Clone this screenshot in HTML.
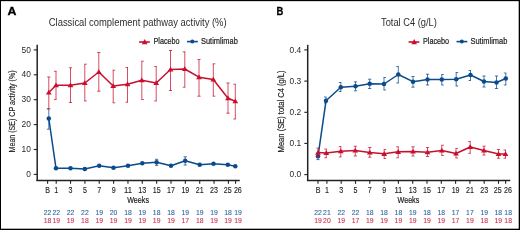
<!DOCTYPE html>
<html><head><meta charset="utf-8"><style>
html,body{margin:0;padding:0;background:#fff;width:520px;height:230px;overflow:hidden}
svg{display:block;will-change:transform}
text{font-family:"Liberation Sans", sans-serif}
</style></head><body>
<svg width="520" height="230" viewBox="0 0 520 230">
<rect width="520" height="230" fill="#fff"/>
<rect x="0" y="0" width="520" height="1.15" fill="#000"/>
<rect x="0" y="0" width="1" height="230" fill="#000"/>
<rect x="0" y="228.7" width="520" height="1.3" fill="#000"/>
<rect x="518.7" y="0" width="1.3" height="230" fill="#000"/>
<text x="7.4" y="14.7" font-size="10.7" fill="#000" text-anchor="start" font-weight="bold" textLength="8.9" lengthAdjust="spacingAndGlyphs" stroke="#000" stroke-width="0.3">A</text>
<text x="48.8" y="25.9" font-size="10" fill="#2e2e2e" text-anchor="start" font-weight="normal" textLength="177.8" lengthAdjust="spacingAndGlyphs">Classical complement pathway activity (%)</text>
<line x1="139.1" y1="42" x2="149.79999999999998" y2="42" stroke="#c8102e" stroke-width="1.6"/>
<polygon points="141.89999999999998,44.2 144.7,38.9 147.5,44.2" fill="#c8102e"/>
<text x="153.5" y="43.7" font-size="8.3" fill="#222" text-anchor="start" font-weight="normal" textLength="26.1" lengthAdjust="spacingAndGlyphs" stroke="#222" stroke-width="0.2">Placebo</text>
<line x1="187" y1="41.6" x2="197.8" y2="41.6" stroke="#0b4b8c" stroke-width="1.6"/>
<circle cx="192.3" cy="41.6" r="2.0" fill="#0b4b8c"/>
<text x="201" y="43.7" font-size="8.3" fill="#222" text-anchor="start" font-weight="normal" textLength="36.8" lengthAdjust="spacingAndGlyphs" stroke="#222" stroke-width="0.2">Sutimlimab</text>
<line x1="37.2" y1="44.8" x2="37.2" y2="181" stroke="#222" stroke-width="1.5"/>
<line x1="36.45" y1="180.5" x2="239.8" y2="180.5" stroke="#222" stroke-width="1.5"/>
<line x1="33.800000000000004" y1="49.9" x2="37.2" y2="49.9" stroke="#222" stroke-width="1.1"/>
<text x="30.8" y="52.5" font-size="8.4" fill="#2a2a2a" text-anchor="end" font-weight="normal">50</text>
<line x1="33.800000000000004" y1="74.8" x2="37.2" y2="74.8" stroke="#222" stroke-width="1.1"/>
<text x="30.8" y="77.39999999999999" font-size="8.4" fill="#2a2a2a" text-anchor="end" font-weight="normal">40</text>
<line x1="33.800000000000004" y1="99.7" x2="37.2" y2="99.7" stroke="#222" stroke-width="1.1"/>
<text x="30.8" y="102.3" font-size="8.4" fill="#2a2a2a" text-anchor="end" font-weight="normal">30</text>
<line x1="33.800000000000004" y1="124.6" x2="37.2" y2="124.6" stroke="#222" stroke-width="1.1"/>
<text x="30.8" y="127.19999999999999" font-size="8.4" fill="#2a2a2a" text-anchor="end" font-weight="normal">20</text>
<line x1="33.800000000000004" y1="149.5" x2="37.2" y2="149.5" stroke="#222" stroke-width="1.1"/>
<text x="30.8" y="152.1" font-size="8.4" fill="#2a2a2a" text-anchor="end" font-weight="normal">10</text>
<line x1="33.800000000000004" y1="174.4" x2="37.2" y2="174.4" stroke="#222" stroke-width="1.1"/>
<text x="30.8" y="177.0" font-size="8.4" fill="#2a2a2a" text-anchor="end" font-weight="normal">0</text>
<line x1="47.6" y1="180.5" x2="47.6" y2="183.8" stroke="#222" stroke-width="1.1"/>
<line x1="56.2" y1="180.5" x2="56.2" y2="183.8" stroke="#222" stroke-width="1.1"/>
<line x1="70.55" y1="180.5" x2="70.55" y2="183.8" stroke="#222" stroke-width="1.1"/>
<line x1="84.9" y1="180.5" x2="84.9" y2="183.8" stroke="#222" stroke-width="1.1"/>
<line x1="99.25" y1="180.5" x2="99.25" y2="183.8" stroke="#222" stroke-width="1.1"/>
<line x1="113.6" y1="180.5" x2="113.6" y2="183.8" stroke="#222" stroke-width="1.1"/>
<line x1="127.95" y1="180.5" x2="127.95" y2="183.8" stroke="#222" stroke-width="1.1"/>
<line x1="142.3" y1="180.5" x2="142.3" y2="183.8" stroke="#222" stroke-width="1.1"/>
<line x1="156.65" y1="180.5" x2="156.65" y2="183.8" stroke="#222" stroke-width="1.1"/>
<line x1="171.0" y1="180.5" x2="171.0" y2="183.8" stroke="#222" stroke-width="1.1"/>
<line x1="185.35" y1="180.5" x2="185.35" y2="183.8" stroke="#222" stroke-width="1.1"/>
<line x1="199.7" y1="180.5" x2="199.7" y2="183.8" stroke="#222" stroke-width="1.1"/>
<line x1="214.05" y1="180.5" x2="214.05" y2="183.8" stroke="#222" stroke-width="1.1"/>
<line x1="228.4" y1="180.5" x2="228.4" y2="183.8" stroke="#222" stroke-width="1.1"/>
<line x1="235.57" y1="180.5" x2="235.57" y2="183.8" stroke="#222" stroke-width="1.1"/>
<text x="47.6" y="193" font-size="8.5" fill="#1a1a1a" text-anchor="middle" font-weight="normal" textLength="4.74" lengthAdjust="spacingAndGlyphs" stroke="#1a1a1a" stroke-width="0.12">B</text>
<text x="56.2" y="193" font-size="8.5" fill="#1a1a1a" text-anchor="middle" font-weight="normal" textLength="3.95" lengthAdjust="spacingAndGlyphs" stroke="#1a1a1a" stroke-width="0.12">1</text>
<text x="70.55" y="193" font-size="8.5" fill="#1a1a1a" text-anchor="middle" font-weight="normal" textLength="3.95" lengthAdjust="spacingAndGlyphs" stroke="#1a1a1a" stroke-width="0.12">3</text>
<text x="84.9" y="193" font-size="8.5" fill="#1a1a1a" text-anchor="middle" font-weight="normal" textLength="3.95" lengthAdjust="spacingAndGlyphs" stroke="#1a1a1a" stroke-width="0.12">5</text>
<text x="99.25" y="193" font-size="8.5" fill="#1a1a1a" text-anchor="middle" font-weight="normal" textLength="3.95" lengthAdjust="spacingAndGlyphs" stroke="#1a1a1a" stroke-width="0.12">7</text>
<text x="113.6" y="193" font-size="8.5" fill="#1a1a1a" text-anchor="middle" font-weight="normal" textLength="3.95" lengthAdjust="spacingAndGlyphs" stroke="#1a1a1a" stroke-width="0.12">9</text>
<text x="127.95" y="193" font-size="8.5" fill="#1a1a1a" text-anchor="middle" font-weight="normal" textLength="7.91" lengthAdjust="spacingAndGlyphs" stroke="#1a1a1a" stroke-width="0.12">11</text>
<text x="142.3" y="193" font-size="8.5" fill="#1a1a1a" text-anchor="middle" font-weight="normal" textLength="7.91" lengthAdjust="spacingAndGlyphs" stroke="#1a1a1a" stroke-width="0.12">13</text>
<text x="156.65" y="193" font-size="8.5" fill="#1a1a1a" text-anchor="middle" font-weight="normal" textLength="7.91" lengthAdjust="spacingAndGlyphs" stroke="#1a1a1a" stroke-width="0.12">15</text>
<text x="171.0" y="193" font-size="8.5" fill="#1a1a1a" text-anchor="middle" font-weight="normal" textLength="7.91" lengthAdjust="spacingAndGlyphs" stroke="#1a1a1a" stroke-width="0.12">17</text>
<text x="185.35" y="193" font-size="8.5" fill="#1a1a1a" text-anchor="middle" font-weight="normal" textLength="7.91" lengthAdjust="spacingAndGlyphs" stroke="#1a1a1a" stroke-width="0.12">19</text>
<text x="199.7" y="193" font-size="8.5" fill="#1a1a1a" text-anchor="middle" font-weight="normal" textLength="7.91" lengthAdjust="spacingAndGlyphs" stroke="#1a1a1a" stroke-width="0.12">21</text>
<text x="214.05" y="193" font-size="8.5" fill="#1a1a1a" text-anchor="middle" font-weight="normal" textLength="7.91" lengthAdjust="spacingAndGlyphs" stroke="#1a1a1a" stroke-width="0.12">23</text>
<text x="227.7" y="193" font-size="8.5" fill="#1a1a1a" text-anchor="middle" font-weight="normal" textLength="7.91" lengthAdjust="spacingAndGlyphs" stroke="#1a1a1a" stroke-width="0.12">25</text>
<text x="237.87" y="193" font-size="8.5" fill="#1a1a1a" text-anchor="middle" font-weight="normal" textLength="7.91" lengthAdjust="spacingAndGlyphs" stroke="#1a1a1a" stroke-width="0.12">26</text>
<text x="127.2" y="203.3" font-size="9.5" fill="#1a1a1a" text-anchor="start" font-weight="normal" textLength="21.8" lengthAdjust="spacingAndGlyphs" stroke="#1a1a1a" stroke-width="0.2">Weeks</text>
<text transform="translate(15.2,152.4) rotate(-90)" font-size="8.2" fill="#1a1a1a" stroke="#1a1a1a" stroke-width="0.15" textLength="82" lengthAdjust="spacingAndGlyphs">Mean (SE) CP activity (%)</text>
<text x="47.6" y="214.8" font-size="7.4" fill="#2f66a0" text-anchor="middle" font-weight="normal" textLength="7.6" lengthAdjust="spacingAndGlyphs" stroke="#2f66a0" stroke-width="0.1">22</text>
<text x="47.6" y="222.8" font-size="7.4" fill="#cc3050" text-anchor="middle" font-weight="normal" textLength="7.6" lengthAdjust="spacingAndGlyphs" stroke="#cc3050" stroke-width="0.1">18</text>
<text x="56.2" y="214.8" font-size="7.4" fill="#2f66a0" text-anchor="middle" font-weight="normal" textLength="7.6" lengthAdjust="spacingAndGlyphs" stroke="#2f66a0" stroke-width="0.1">22</text>
<text x="56.2" y="222.8" font-size="7.4" fill="#cc3050" text-anchor="middle" font-weight="normal" textLength="7.6" lengthAdjust="spacingAndGlyphs" stroke="#cc3050" stroke-width="0.1">19</text>
<text x="70.55" y="214.8" font-size="7.4" fill="#2f66a0" text-anchor="middle" font-weight="normal" textLength="7.6" lengthAdjust="spacingAndGlyphs" stroke="#2f66a0" stroke-width="0.1">22</text>
<text x="70.55" y="222.8" font-size="7.4" fill="#cc3050" text-anchor="middle" font-weight="normal" textLength="7.6" lengthAdjust="spacingAndGlyphs" stroke="#cc3050" stroke-width="0.1">19</text>
<text x="84.9" y="214.8" font-size="7.4" fill="#2f66a0" text-anchor="middle" font-weight="normal" textLength="7.6" lengthAdjust="spacingAndGlyphs" stroke="#2f66a0" stroke-width="0.1">22</text>
<text x="84.9" y="222.8" font-size="7.4" fill="#cc3050" text-anchor="middle" font-weight="normal" textLength="7.6" lengthAdjust="spacingAndGlyphs" stroke="#cc3050" stroke-width="0.1">18</text>
<text x="99.25" y="214.8" font-size="7.4" fill="#2f66a0" text-anchor="middle" font-weight="normal" textLength="7.6" lengthAdjust="spacingAndGlyphs" stroke="#2f66a0" stroke-width="0.1">19</text>
<text x="99.25" y="222.8" font-size="7.4" fill="#cc3050" text-anchor="middle" font-weight="normal" textLength="7.6" lengthAdjust="spacingAndGlyphs" stroke="#cc3050" stroke-width="0.1">19</text>
<text x="113.6" y="214.8" font-size="7.4" fill="#2f66a0" text-anchor="middle" font-weight="normal" textLength="7.6" lengthAdjust="spacingAndGlyphs" stroke="#2f66a0" stroke-width="0.1">20</text>
<text x="113.6" y="222.8" font-size="7.4" fill="#cc3050" text-anchor="middle" font-weight="normal" textLength="7.6" lengthAdjust="spacingAndGlyphs" stroke="#cc3050" stroke-width="0.1">19</text>
<text x="127.95" y="214.8" font-size="7.4" fill="#2f66a0" text-anchor="middle" font-weight="normal" textLength="7.6" lengthAdjust="spacingAndGlyphs" stroke="#2f66a0" stroke-width="0.1">18</text>
<text x="127.95" y="222.8" font-size="7.4" fill="#cc3050" text-anchor="middle" font-weight="normal" textLength="7.6" lengthAdjust="spacingAndGlyphs" stroke="#cc3050" stroke-width="0.1">19</text>
<text x="142.3" y="214.8" font-size="7.4" fill="#2f66a0" text-anchor="middle" font-weight="normal" textLength="7.6" lengthAdjust="spacingAndGlyphs" stroke="#2f66a0" stroke-width="0.1">19</text>
<text x="142.3" y="222.8" font-size="7.4" fill="#cc3050" text-anchor="middle" font-weight="normal" textLength="7.6" lengthAdjust="spacingAndGlyphs" stroke="#cc3050" stroke-width="0.1">19</text>
<text x="156.65" y="214.8" font-size="7.4" fill="#2f66a0" text-anchor="middle" font-weight="normal" textLength="7.6" lengthAdjust="spacingAndGlyphs" stroke="#2f66a0" stroke-width="0.1">18</text>
<text x="156.65" y="222.8" font-size="7.4" fill="#cc3050" text-anchor="middle" font-weight="normal" textLength="7.6" lengthAdjust="spacingAndGlyphs" stroke="#cc3050" stroke-width="0.1">19</text>
<text x="171.0" y="214.8" font-size="7.4" fill="#2f66a0" text-anchor="middle" font-weight="normal" textLength="7.6" lengthAdjust="spacingAndGlyphs" stroke="#2f66a0" stroke-width="0.1">18</text>
<text x="171.0" y="222.8" font-size="7.4" fill="#cc3050" text-anchor="middle" font-weight="normal" textLength="7.6" lengthAdjust="spacingAndGlyphs" stroke="#cc3050" stroke-width="0.1">19</text>
<text x="185.35" y="214.8" font-size="7.4" fill="#2f66a0" text-anchor="middle" font-weight="normal" textLength="7.6" lengthAdjust="spacingAndGlyphs" stroke="#2f66a0" stroke-width="0.1">19</text>
<text x="185.35" y="222.8" font-size="7.4" fill="#cc3050" text-anchor="middle" font-weight="normal" textLength="7.6" lengthAdjust="spacingAndGlyphs" stroke="#cc3050" stroke-width="0.1">17</text>
<text x="199.7" y="214.8" font-size="7.4" fill="#2f66a0" text-anchor="middle" font-weight="normal" textLength="7.6" lengthAdjust="spacingAndGlyphs" stroke="#2f66a0" stroke-width="0.1">19</text>
<text x="199.7" y="222.8" font-size="7.4" fill="#cc3050" text-anchor="middle" font-weight="normal" textLength="7.6" lengthAdjust="spacingAndGlyphs" stroke="#cc3050" stroke-width="0.1">18</text>
<text x="214.05" y="214.8" font-size="7.4" fill="#2f66a0" text-anchor="middle" font-weight="normal" textLength="7.6" lengthAdjust="spacingAndGlyphs" stroke="#2f66a0" stroke-width="0.1">19</text>
<text x="214.05" y="222.8" font-size="7.4" fill="#cc3050" text-anchor="middle" font-weight="normal" textLength="7.6" lengthAdjust="spacingAndGlyphs" stroke="#cc3050" stroke-width="0.1">19</text>
<text x="228.1" y="214.8" font-size="7.4" fill="#2f66a0" text-anchor="middle" font-weight="normal" textLength="7.6" lengthAdjust="spacingAndGlyphs" stroke="#2f66a0" stroke-width="0.1">18</text>
<text x="228.1" y="222.8" font-size="7.4" fill="#cc3050" text-anchor="middle" font-weight="normal" textLength="7.6" lengthAdjust="spacingAndGlyphs" stroke="#cc3050" stroke-width="0.1">19</text>
<text x="238.07" y="214.8" font-size="7.4" fill="#2f66a0" text-anchor="middle" font-weight="normal" textLength="7.6" lengthAdjust="spacingAndGlyphs" stroke="#2f66a0" stroke-width="0.1">19</text>
<text x="238.07" y="222.8" font-size="7.4" fill="#cc3050" text-anchor="middle" font-weight="normal" textLength="7.6" lengthAdjust="spacingAndGlyphs" stroke="#cc3050" stroke-width="0.1">19</text>
<path d="M48.8,108.8V129.2M46.8,108.8H49.3M46.8,129.2H49.3" stroke="#0b4b8c" stroke-width="1" fill="none" opacity="0.75"/>
<path d="M156.6,159.3V165.4M155.0,159.3H158.2M155.0,165.4H158.2" stroke="#0b4b8c" stroke-width="1" fill="none" opacity="0.75"/>
<path d="M185.2,156.8V165M183.6,156.8H186.8M183.6,165H186.8" stroke="#0b4b8c" stroke-width="1" fill="none" opacity="0.75"/>
<polyline points="48.8,118.5 56,168.3 70.5,168.3 84.8,169 99.2,165.8 113.5,167.8 128,165.8 142.3,163.3 156.6,162.2 171,165.8 185.2,160.8 199.7,164.8 213.5,163.8 227.8,164.8 235.3,166.3" fill="none" stroke="#0b4b8c" stroke-width="1.5" stroke-linejoin="round"/>
<circle cx="48.8" cy="118.5" r="2.25" fill="#0b4b8c"/>
<circle cx="56" cy="168.3" r="2.25" fill="#0b4b8c"/>
<circle cx="70.5" cy="168.3" r="2.25" fill="#0b4b8c"/>
<circle cx="84.8" cy="169" r="2.25" fill="#0b4b8c"/>
<circle cx="99.2" cy="165.8" r="2.25" fill="#0b4b8c"/>
<circle cx="113.5" cy="167.8" r="2.25" fill="#0b4b8c"/>
<circle cx="128" cy="165.8" r="2.25" fill="#0b4b8c"/>
<circle cx="142.3" cy="163.3" r="2.25" fill="#0b4b8c"/>
<circle cx="156.6" cy="162.2" r="2.25" fill="#0b4b8c"/>
<circle cx="171" cy="165.8" r="2.25" fill="#0b4b8c"/>
<circle cx="185.2" cy="160.8" r="2.25" fill="#0b4b8c"/>
<circle cx="199.7" cy="164.8" r="2.25" fill="#0b4b8c"/>
<circle cx="213.5" cy="163.8" r="2.25" fill="#0b4b8c"/>
<circle cx="227.8" cy="164.8" r="2.25" fill="#0b4b8c"/>
<circle cx="235.3" cy="166.3" r="2.25" fill="#0b4b8c"/>
<path d="M48.8,77V108.8M47.2,77H50.4M47.2,108.8H50.4" stroke="#c8102e" stroke-width="1" fill="none" opacity="0.75"/>
<path d="M56,71.3V99.5M54.0,71.3H56.5M54.0,99.5H56.5" stroke="#c8102e" stroke-width="1" fill="none" opacity="0.75"/>
<path d="M70.5,67.8V102.5M68.9,67.8H72.1M68.9,102.5H72.1" stroke="#c8102e" stroke-width="1" fill="none" opacity="0.75"/>
<path d="M84.8,64.2V101M84.3,64.2H86.8M84.3,101H86.8" stroke="#c8102e" stroke-width="1" fill="none" opacity="0.75"/>
<path d="M98.8,52.5V91.2M97.2,52.5H100.4M97.2,91.2H100.4" stroke="#c8102e" stroke-width="1" fill="none" opacity="0.75"/>
<path d="M113.2,70.2V102.8M112.7,70.2H115.2M112.7,102.8H115.2" stroke="#c8102e" stroke-width="1" fill="none" opacity="0.75"/>
<path d="M127.5,67.5V102.2M125.5,67.5H128.0M125.5,102.2H128.0" stroke="#c8102e" stroke-width="1" fill="none" opacity="0.75"/>
<path d="M141.8,61.2V99.5M141.3,61.2H143.8M141.3,99.5H143.8" stroke="#c8102e" stroke-width="1" fill="none" opacity="0.75"/>
<path d="M156.2,66.5V101M154.2,66.5H156.7M154.2,101H156.7" stroke="#c8102e" stroke-width="1" fill="none" opacity="0.75"/>
<path d="M170.5,50.5V90.5M168.9,50.5H172.1M168.9,90.5H172.1" stroke="#c8102e" stroke-width="1" fill="none" opacity="0.75"/>
<path d="M184.8,51.8V87.2M182.8,51.8H185.3M182.8,87.2H185.3" stroke="#c8102e" stroke-width="1" fill="none" opacity="0.75"/>
<path d="M199,59.5V96.2M197.4,59.5H200.6M197.4,96.2H200.6" stroke="#c8102e" stroke-width="1" fill="none" opacity="0.75"/>
<path d="M213.3,63.8V96.2M212.8,63.8H215.3M212.8,96.2H215.3" stroke="#c8102e" stroke-width="1" fill="none" opacity="0.75"/>
<path d="M228,83V113.2M226.4,83H229.6M226.4,113.2H229.6" stroke="#c8102e" stroke-width="1" fill="none" opacity="0.75"/>
<path d="M235.3,84.2V119M233.3,84.2H235.8M233.3,119H235.8" stroke="#c8102e" stroke-width="1" fill="none" opacity="0.75"/>
<polyline points="48.8,92.5 56,85.2 70.5,85.2 84.8,83 98.8,72 113.2,86 127.5,84.2 141.8,80.2 156.2,83 170.5,69.5 184.8,69 199,77.2 213.3,79.5 228,98.2 235.3,101.2" fill="none" stroke="#c8102e" stroke-width="1.5" stroke-linejoin="round"/>
<polygon points="45.9,94.6 48.8,89.8 51.699999999999996,94.6" fill="#c8102e"/>
<polygon points="53.1,87.3 56,82.5 58.9,87.3" fill="#c8102e"/>
<polygon points="67.6,87.3 70.5,82.5 73.4,87.3" fill="#c8102e"/>
<polygon points="81.89999999999999,85.1 84.8,80.3 87.7,85.1" fill="#c8102e"/>
<polygon points="95.89999999999999,74.1 98.8,69.3 101.7,74.1" fill="#c8102e"/>
<polygon points="110.3,88.1 113.2,83.3 116.10000000000001,88.1" fill="#c8102e"/>
<polygon points="124.6,86.3 127.5,81.5 130.4,86.3" fill="#c8102e"/>
<polygon points="138.9,82.3 141.8,77.5 144.70000000000002,82.3" fill="#c8102e"/>
<polygon points="153.29999999999998,85.1 156.2,80.3 159.1,85.1" fill="#c8102e"/>
<polygon points="167.6,71.6 170.5,66.8 173.4,71.6" fill="#c8102e"/>
<polygon points="181.9,71.1 184.8,66.3 187.70000000000002,71.1" fill="#c8102e"/>
<polygon points="196.1,79.3 199,74.5 201.9,79.3" fill="#c8102e"/>
<polygon points="210.4,81.6 213.3,76.8 216.20000000000002,81.6" fill="#c8102e"/>
<polygon points="225.1,100.3 228,95.5 230.9,100.3" fill="#c8102e"/>
<polygon points="232.4,103.3 235.3,98.5 238.20000000000002,103.3" fill="#c8102e"/>
<text x="276.5" y="14.7" font-size="10.7" fill="#000" text-anchor="start" font-weight="bold" textLength="6.8" lengthAdjust="spacingAndGlyphs" stroke="#000" stroke-width="0.3">B</text>
<text x="381" y="25.9" font-size="10" fill="#2e2e2e" text-anchor="start" font-weight="normal" textLength="55.9" lengthAdjust="spacingAndGlyphs">Total C4 (g/L)</text>
<line x1="408.6" y1="42" x2="419.3" y2="42" stroke="#c8102e" stroke-width="1.6"/>
<polygon points="411.40000000000003,44.2 414.20000000000005,38.9 417.00000000000006,44.2" fill="#c8102e"/>
<text x="423.0" y="43.7" font-size="8.3" fill="#222" text-anchor="start" font-weight="normal" textLength="26.1" lengthAdjust="spacingAndGlyphs" stroke="#222" stroke-width="0.2">Placebo</text>
<line x1="456.5" y1="41.6" x2="467.3" y2="41.6" stroke="#0b4b8c" stroke-width="1.6"/>
<circle cx="461.8" cy="41.6" r="2.0" fill="#0b4b8c"/>
<text x="470.5" y="43.7" font-size="8.3" fill="#222" text-anchor="start" font-weight="normal" textLength="36.8" lengthAdjust="spacingAndGlyphs" stroke="#222" stroke-width="0.2">Sutimlimab</text>
<line x1="307.7" y1="44.8" x2="307.7" y2="181" stroke="#222" stroke-width="1.5"/>
<line x1="306.95" y1="180.5" x2="510.3" y2="180.5" stroke="#222" stroke-width="1.5"/>
<line x1="304.3" y1="49.9" x2="307.7" y2="49.9" stroke="#222" stroke-width="1.1"/>
<text x="301.2" y="52.5" font-size="8.4" fill="#2a2a2a" text-anchor="end" font-weight="normal">0.4</text>
<line x1="304.3" y1="81.1" x2="307.7" y2="81.1" stroke="#222" stroke-width="1.1"/>
<text x="301.2" y="83.69999999999999" font-size="8.4" fill="#2a2a2a" text-anchor="end" font-weight="normal">0.3</text>
<line x1="304.3" y1="112.3" x2="307.7" y2="112.3" stroke="#222" stroke-width="1.1"/>
<text x="301.2" y="114.89999999999999" font-size="8.4" fill="#2a2a2a" text-anchor="end" font-weight="normal">0.2</text>
<line x1="304.3" y1="143.4" x2="307.7" y2="143.4" stroke="#222" stroke-width="1.1"/>
<text x="301.2" y="146.0" font-size="8.4" fill="#2a2a2a" text-anchor="end" font-weight="normal">0.1</text>
<line x1="304.3" y1="174.6" x2="307.7" y2="174.6" stroke="#222" stroke-width="1.1"/>
<text x="301.2" y="177.2" font-size="8.4" fill="#2a2a2a" text-anchor="end" font-weight="normal">0.0</text>
<line x1="318" y1="180.5" x2="318" y2="183.8" stroke="#222" stroke-width="1.1"/>
<line x1="326.9" y1="180.5" x2="326.9" y2="183.8" stroke="#222" stroke-width="1.1"/>
<line x1="341.2" y1="180.5" x2="341.2" y2="183.8" stroke="#222" stroke-width="1.1"/>
<line x1="355.5" y1="180.5" x2="355.5" y2="183.8" stroke="#222" stroke-width="1.1"/>
<line x1="369.8" y1="180.5" x2="369.8" y2="183.8" stroke="#222" stroke-width="1.1"/>
<line x1="384.1" y1="180.5" x2="384.1" y2="183.8" stroke="#222" stroke-width="1.1"/>
<line x1="398.4" y1="180.5" x2="398.4" y2="183.8" stroke="#222" stroke-width="1.1"/>
<line x1="412.7" y1="180.5" x2="412.7" y2="183.8" stroke="#222" stroke-width="1.1"/>
<line x1="427.0" y1="180.5" x2="427.0" y2="183.8" stroke="#222" stroke-width="1.1"/>
<line x1="441.3" y1="180.5" x2="441.3" y2="183.8" stroke="#222" stroke-width="1.1"/>
<line x1="455.6" y1="180.5" x2="455.6" y2="183.8" stroke="#222" stroke-width="1.1"/>
<line x1="469.9" y1="180.5" x2="469.9" y2="183.8" stroke="#222" stroke-width="1.1"/>
<line x1="484.2" y1="180.5" x2="484.2" y2="183.8" stroke="#222" stroke-width="1.1"/>
<line x1="498.5" y1="180.5" x2="498.5" y2="183.8" stroke="#222" stroke-width="1.1"/>
<line x1="505.65" y1="180.5" x2="505.65" y2="183.8" stroke="#222" stroke-width="1.1"/>
<text x="318" y="193" font-size="8.5" fill="#1a1a1a" text-anchor="middle" font-weight="normal" textLength="4.74" lengthAdjust="spacingAndGlyphs" stroke="#1a1a1a" stroke-width="0.12">B</text>
<text x="326.9" y="193" font-size="8.5" fill="#1a1a1a" text-anchor="middle" font-weight="normal" textLength="3.95" lengthAdjust="spacingAndGlyphs" stroke="#1a1a1a" stroke-width="0.12">1</text>
<text x="341.2" y="193" font-size="8.5" fill="#1a1a1a" text-anchor="middle" font-weight="normal" textLength="3.95" lengthAdjust="spacingAndGlyphs" stroke="#1a1a1a" stroke-width="0.12">3</text>
<text x="355.5" y="193" font-size="8.5" fill="#1a1a1a" text-anchor="middle" font-weight="normal" textLength="3.95" lengthAdjust="spacingAndGlyphs" stroke="#1a1a1a" stroke-width="0.12">5</text>
<text x="369.8" y="193" font-size="8.5" fill="#1a1a1a" text-anchor="middle" font-weight="normal" textLength="3.95" lengthAdjust="spacingAndGlyphs" stroke="#1a1a1a" stroke-width="0.12">7</text>
<text x="384.1" y="193" font-size="8.5" fill="#1a1a1a" text-anchor="middle" font-weight="normal" textLength="3.95" lengthAdjust="spacingAndGlyphs" stroke="#1a1a1a" stroke-width="0.12">9</text>
<text x="398.4" y="193" font-size="8.5" fill="#1a1a1a" text-anchor="middle" font-weight="normal" textLength="7.91" lengthAdjust="spacingAndGlyphs" stroke="#1a1a1a" stroke-width="0.12">11</text>
<text x="412.7" y="193" font-size="8.5" fill="#1a1a1a" text-anchor="middle" font-weight="normal" textLength="7.91" lengthAdjust="spacingAndGlyphs" stroke="#1a1a1a" stroke-width="0.12">13</text>
<text x="427.0" y="193" font-size="8.5" fill="#1a1a1a" text-anchor="middle" font-weight="normal" textLength="7.91" lengthAdjust="spacingAndGlyphs" stroke="#1a1a1a" stroke-width="0.12">15</text>
<text x="441.3" y="193" font-size="8.5" fill="#1a1a1a" text-anchor="middle" font-weight="normal" textLength="7.91" lengthAdjust="spacingAndGlyphs" stroke="#1a1a1a" stroke-width="0.12">17</text>
<text x="455.6" y="193" font-size="8.5" fill="#1a1a1a" text-anchor="middle" font-weight="normal" textLength="7.91" lengthAdjust="spacingAndGlyphs" stroke="#1a1a1a" stroke-width="0.12">19</text>
<text x="469.9" y="193" font-size="8.5" fill="#1a1a1a" text-anchor="middle" font-weight="normal" textLength="7.91" lengthAdjust="spacingAndGlyphs" stroke="#1a1a1a" stroke-width="0.12">21</text>
<text x="484.2" y="193" font-size="8.5" fill="#1a1a1a" text-anchor="middle" font-weight="normal" textLength="7.91" lengthAdjust="spacingAndGlyphs" stroke="#1a1a1a" stroke-width="0.12">23</text>
<text x="497.8" y="193" font-size="8.5" fill="#1a1a1a" text-anchor="middle" font-weight="normal" textLength="7.91" lengthAdjust="spacingAndGlyphs" stroke="#1a1a1a" stroke-width="0.12">25</text>
<text x="507.95" y="193" font-size="8.5" fill="#1a1a1a" text-anchor="middle" font-weight="normal" textLength="7.91" lengthAdjust="spacingAndGlyphs" stroke="#1a1a1a" stroke-width="0.12">26</text>
<text x="397.5" y="203.3" font-size="9.5" fill="#1a1a1a" text-anchor="start" font-weight="normal" textLength="21.8" lengthAdjust="spacingAndGlyphs" stroke="#1a1a1a" stroke-width="0.2">Weeks</text>
<text transform="translate(283.5,152.4) rotate(-90)" font-size="8.2" fill="#1a1a1a" stroke="#1a1a1a" stroke-width="0.15" textLength="82" lengthAdjust="spacingAndGlyphs">Mean (SE) total C4 (g/L)</text>
<text x="318" y="214.8" font-size="7.4" fill="#2f66a0" text-anchor="middle" font-weight="normal" textLength="7.6" lengthAdjust="spacingAndGlyphs" stroke="#2f66a0" stroke-width="0.1">22</text>
<text x="318" y="222.8" font-size="7.4" fill="#cc3050" text-anchor="middle" font-weight="normal" textLength="7.6" lengthAdjust="spacingAndGlyphs" stroke="#cc3050" stroke-width="0.1">19</text>
<text x="326.9" y="214.8" font-size="7.4" fill="#2f66a0" text-anchor="middle" font-weight="normal" textLength="7.6" lengthAdjust="spacingAndGlyphs" stroke="#2f66a0" stroke-width="0.1">21</text>
<text x="326.9" y="222.8" font-size="7.4" fill="#cc3050" text-anchor="middle" font-weight="normal" textLength="7.6" lengthAdjust="spacingAndGlyphs" stroke="#cc3050" stroke-width="0.1">20</text>
<text x="341.2" y="214.8" font-size="7.4" fill="#2f66a0" text-anchor="middle" font-weight="normal" textLength="7.6" lengthAdjust="spacingAndGlyphs" stroke="#2f66a0" stroke-width="0.1">22</text>
<text x="341.2" y="222.8" font-size="7.4" fill="#cc3050" text-anchor="middle" font-weight="normal" textLength="7.6" lengthAdjust="spacingAndGlyphs" stroke="#cc3050" stroke-width="0.1">19</text>
<text x="355.5" y="214.8" font-size="7.4" fill="#2f66a0" text-anchor="middle" font-weight="normal" textLength="7.6" lengthAdjust="spacingAndGlyphs" stroke="#2f66a0" stroke-width="0.1">22</text>
<text x="355.5" y="222.8" font-size="7.4" fill="#cc3050" text-anchor="middle" font-weight="normal" textLength="7.6" lengthAdjust="spacingAndGlyphs" stroke="#cc3050" stroke-width="0.1">17</text>
<text x="369.8" y="214.8" font-size="7.4" fill="#2f66a0" text-anchor="middle" font-weight="normal" textLength="7.6" lengthAdjust="spacingAndGlyphs" stroke="#2f66a0" stroke-width="0.1">18</text>
<text x="369.8" y="222.8" font-size="7.4" fill="#cc3050" text-anchor="middle" font-weight="normal" textLength="7.6" lengthAdjust="spacingAndGlyphs" stroke="#cc3050" stroke-width="0.1">19</text>
<text x="384.1" y="214.8" font-size="7.4" fill="#2f66a0" text-anchor="middle" font-weight="normal" textLength="7.6" lengthAdjust="spacingAndGlyphs" stroke="#2f66a0" stroke-width="0.1">18</text>
<text x="384.1" y="222.8" font-size="7.4" fill="#cc3050" text-anchor="middle" font-weight="normal" textLength="7.6" lengthAdjust="spacingAndGlyphs" stroke="#cc3050" stroke-width="0.1">19</text>
<text x="398.4" y="214.8" font-size="7.4" fill="#2f66a0" text-anchor="middle" font-weight="normal" textLength="7.6" lengthAdjust="spacingAndGlyphs" stroke="#2f66a0" stroke-width="0.1">18</text>
<text x="398.4" y="222.8" font-size="7.4" fill="#cc3050" text-anchor="middle" font-weight="normal" textLength="7.6" lengthAdjust="spacingAndGlyphs" stroke="#cc3050" stroke-width="0.1">19</text>
<text x="412.7" y="214.8" font-size="7.4" fill="#2f66a0" text-anchor="middle" font-weight="normal" textLength="7.6" lengthAdjust="spacingAndGlyphs" stroke="#2f66a0" stroke-width="0.1">19</text>
<text x="412.7" y="222.8" font-size="7.4" fill="#cc3050" text-anchor="middle" font-weight="normal" textLength="7.6" lengthAdjust="spacingAndGlyphs" stroke="#cc3050" stroke-width="0.1">19</text>
<text x="427.0" y="214.8" font-size="7.4" fill="#2f66a0" text-anchor="middle" font-weight="normal" textLength="7.6" lengthAdjust="spacingAndGlyphs" stroke="#2f66a0" stroke-width="0.1">18</text>
<text x="427.0" y="222.8" font-size="7.4" fill="#cc3050" text-anchor="middle" font-weight="normal" textLength="7.6" lengthAdjust="spacingAndGlyphs" stroke="#cc3050" stroke-width="0.1">19</text>
<text x="441.3" y="214.8" font-size="7.4" fill="#2f66a0" text-anchor="middle" font-weight="normal" textLength="7.6" lengthAdjust="spacingAndGlyphs" stroke="#2f66a0" stroke-width="0.1">18</text>
<text x="441.3" y="222.8" font-size="7.4" fill="#cc3050" text-anchor="middle" font-weight="normal" textLength="7.6" lengthAdjust="spacingAndGlyphs" stroke="#cc3050" stroke-width="0.1">19</text>
<text x="455.6" y="214.8" font-size="7.4" fill="#2f66a0" text-anchor="middle" font-weight="normal" textLength="7.6" lengthAdjust="spacingAndGlyphs" stroke="#2f66a0" stroke-width="0.1">17</text>
<text x="455.6" y="222.8" font-size="7.4" fill="#cc3050" text-anchor="middle" font-weight="normal" textLength="7.6" lengthAdjust="spacingAndGlyphs" stroke="#cc3050" stroke-width="0.1">17</text>
<text x="469.9" y="214.8" font-size="7.4" fill="#2f66a0" text-anchor="middle" font-weight="normal" textLength="7.6" lengthAdjust="spacingAndGlyphs" stroke="#2f66a0" stroke-width="0.1">17</text>
<text x="469.9" y="222.8" font-size="7.4" fill="#cc3050" text-anchor="middle" font-weight="normal" textLength="7.6" lengthAdjust="spacingAndGlyphs" stroke="#cc3050" stroke-width="0.1">19</text>
<text x="484.2" y="214.8" font-size="7.4" fill="#2f66a0" text-anchor="middle" font-weight="normal" textLength="7.6" lengthAdjust="spacingAndGlyphs" stroke="#2f66a0" stroke-width="0.1">19</text>
<text x="484.2" y="222.8" font-size="7.4" fill="#cc3050" text-anchor="middle" font-weight="normal" textLength="7.6" lengthAdjust="spacingAndGlyphs" stroke="#cc3050" stroke-width="0.1">18</text>
<text x="498.2" y="214.8" font-size="7.4" fill="#2f66a0" text-anchor="middle" font-weight="normal" textLength="7.6" lengthAdjust="spacingAndGlyphs" stroke="#2f66a0" stroke-width="0.1">18</text>
<text x="498.2" y="222.8" font-size="7.4" fill="#cc3050" text-anchor="middle" font-weight="normal" textLength="7.6" lengthAdjust="spacingAndGlyphs" stroke="#cc3050" stroke-width="0.1">19</text>
<text x="508.15" y="214.8" font-size="7.4" fill="#2f66a0" text-anchor="middle" font-weight="normal" textLength="7.6" lengthAdjust="spacingAndGlyphs" stroke="#2f66a0" stroke-width="0.1">18</text>
<text x="508.15" y="222.8" font-size="7.4" fill="#cc3050" text-anchor="middle" font-weight="normal" textLength="7.6" lengthAdjust="spacingAndGlyphs" stroke="#cc3050" stroke-width="0.1">18</text>
<path d="M318,153V159.6M316.4,153H319.6M316.4,159.6H319.6" stroke="#0b4b8c" stroke-width="1" fill="none" opacity="0.75"/>
<path d="M326,97V103M324.0,97H326.5M324.0,103H326.5" stroke="#0b4b8c" stroke-width="1" fill="none" opacity="0.75"/>
<path d="M340.8,82.5V91.5M338.8,82.5H341.3M338.8,91.5H341.3" stroke="#0b4b8c" stroke-width="1" fill="none" opacity="0.75"/>
<path d="M355.5,81.8V90.8M353.9,81.8H357.1M353.9,90.8H357.1" stroke="#0b4b8c" stroke-width="1" fill="none" opacity="0.75"/>
<path d="M369.7,79.2V88.5M368.1,79.2H371.3M368.1,88.5H371.3" stroke="#0b4b8c" stroke-width="1" fill="none" opacity="0.75"/>
<path d="M384,77.5V90M383.5,77.5H386.0M383.5,90H386.0" stroke="#0b4b8c" stroke-width="1" fill="none" opacity="0.75"/>
<path d="M398.3,66.5V83M396.3,66.5H398.8M396.3,83H398.8" stroke="#0b4b8c" stroke-width="1" fill="none" opacity="0.75"/>
<path d="M413,76.5V87.2M411.4,76.5H414.6M411.4,87.2H414.6" stroke="#0b4b8c" stroke-width="1" fill="none" opacity="0.75"/>
<path d="M427.5,74.2V85M425.9,74.2H429.1M425.9,85H429.1" stroke="#0b4b8c" stroke-width="1" fill="none" opacity="0.75"/>
<path d="M441.8,74.5V85M441.3,74.5H443.8M441.3,85H443.8" stroke="#0b4b8c" stroke-width="1" fill="none" opacity="0.75"/>
<path d="M456.2,72.5V86M455.7,72.5H458.2M455.7,86H458.2" stroke="#0b4b8c" stroke-width="1" fill="none" opacity="0.75"/>
<path d="M470.5,70.5V80.5M468.5,70.5H471.0M468.5,80.5H471.0" stroke="#0b4b8c" stroke-width="1" fill="none" opacity="0.75"/>
<path d="M484,76V87M482.4,76H485.6M482.4,87H485.6" stroke="#0b4b8c" stroke-width="1" fill="none" opacity="0.75"/>
<path d="M496.5,76V88.5M494.9,76H498.1M494.9,88.5H498.1" stroke="#0b4b8c" stroke-width="1" fill="none" opacity="0.75"/>
<path d="M505.8,73V85M503.8,73H506.3M503.8,85H506.3" stroke="#0b4b8c" stroke-width="1" fill="none" opacity="0.75"/>
<polyline points="318,156.3 326,100.8 340.8,87.2 355.5,86.2 369.7,83.8 384,84 398.3,74.5 413,81.7 427.5,79.5 441.8,79.5 456.2,79.2 470.5,75 484,81.5 496.5,82.5 505.8,78.5" fill="none" stroke="#0b4b8c" stroke-width="1.5" stroke-linejoin="round"/>
<circle cx="318" cy="156.3" r="2.25" fill="#0b4b8c"/>
<circle cx="326" cy="100.8" r="2.25" fill="#0b4b8c"/>
<circle cx="340.8" cy="87.2" r="2.25" fill="#0b4b8c"/>
<circle cx="355.5" cy="86.2" r="2.25" fill="#0b4b8c"/>
<circle cx="369.7" cy="83.8" r="2.25" fill="#0b4b8c"/>
<circle cx="384" cy="84" r="2.25" fill="#0b4b8c"/>
<circle cx="398.3" cy="74.5" r="2.25" fill="#0b4b8c"/>
<circle cx="413" cy="81.7" r="2.25" fill="#0b4b8c"/>
<circle cx="427.5" cy="79.5" r="2.25" fill="#0b4b8c"/>
<circle cx="441.8" cy="79.5" r="2.25" fill="#0b4b8c"/>
<circle cx="456.2" cy="79.2" r="2.25" fill="#0b4b8c"/>
<circle cx="470.5" cy="75" r="2.25" fill="#0b4b8c"/>
<circle cx="484" cy="81.5" r="2.25" fill="#0b4b8c"/>
<circle cx="496.5" cy="82.5" r="2.25" fill="#0b4b8c"/>
<circle cx="505.8" cy="78.5" r="2.25" fill="#0b4b8c"/>
<path d="M318,148.1V157M316.4,148.1H319.6M316.4,157H319.6" stroke="#c8102e" stroke-width="1" fill="none" opacity="0.75"/>
<path d="M326.3,149V157.8M324.3,149H326.8M324.3,157.8H326.8" stroke="#c8102e" stroke-width="1" fill="none" opacity="0.75"/>
<path d="M340.8,146.5V157M338.8,146.5H341.3M338.8,157H341.3" stroke="#c8102e" stroke-width="1" fill="none" opacity="0.75"/>
<path d="M355.3,146.2V156M353.7,146.2H356.9M353.7,156H356.9" stroke="#c8102e" stroke-width="1" fill="none" opacity="0.75"/>
<path d="M369.8,147.5V157.2M368.2,147.5H371.4M368.2,157.2H371.4" stroke="#c8102e" stroke-width="1" fill="none" opacity="0.75"/>
<path d="M384.2,149.5V158.5M383.7,149.5H386.2M383.7,158.5H386.2" stroke="#c8102e" stroke-width="1" fill="none" opacity="0.75"/>
<path d="M398.2,146.8V157.8M396.2,146.8H398.7M396.2,157.8H398.7" stroke="#c8102e" stroke-width="1" fill="none" opacity="0.75"/>
<path d="M413,146.8V156M411.4,146.8H414.6M411.4,156H414.6" stroke="#c8102e" stroke-width="1" fill="none" opacity="0.75"/>
<path d="M427.5,147.5V156.5M425.9,147.5H429.1M425.9,156.5H429.1" stroke="#c8102e" stroke-width="1" fill="none" opacity="0.75"/>
<path d="M441.8,145.2V155.5M441.3,145.2H443.8M441.3,155.5H443.8" stroke="#c8102e" stroke-width="1" fill="none" opacity="0.75"/>
<path d="M456,148.4V158M455.5,148.4H458.0M455.5,158H458.0" stroke="#c8102e" stroke-width="1" fill="none" opacity="0.75"/>
<path d="M470.2,141.5V153.3M468.2,141.5H470.7M468.2,153.3H470.7" stroke="#c8102e" stroke-width="1" fill="none" opacity="0.75"/>
<path d="M484,146.2V155M482.4,146.2H485.6M482.4,155H485.6" stroke="#c8102e" stroke-width="1" fill="none" opacity="0.75"/>
<path d="M498.5,149.5V158.2M496.9,149.5H500.1M496.9,158.2H500.1" stroke="#c8102e" stroke-width="1" fill="none" opacity="0.75"/>
<path d="M505.5,150V158.2M503.5,150H506.0M503.5,158.2H506.0" stroke="#c8102e" stroke-width="1" fill="none" opacity="0.75"/>
<polyline points="318,152.6 326.3,153 340.8,151.2 355.3,150.5 369.8,152.5 384.2,153.8 398.2,151.8 413,151.5 427.5,152.2 441.8,150.5 456,153.5 470.2,147 484,150.5 498.5,154 505.5,154" fill="none" stroke="#c8102e" stroke-width="1.5" stroke-linejoin="round"/>
<polygon points="315.1,154.7 318,149.9 320.9,154.7" fill="#c8102e"/>
<polygon points="323.40000000000003,155.1 326.3,150.3 329.2,155.1" fill="#c8102e"/>
<polygon points="337.90000000000003,153.29999999999998 340.8,148.5 343.7,153.29999999999998" fill="#c8102e"/>
<polygon points="352.40000000000003,152.6 355.3,147.8 358.2,152.6" fill="#c8102e"/>
<polygon points="366.90000000000003,154.6 369.8,149.8 372.7,154.6" fill="#c8102e"/>
<polygon points="381.3,155.9 384.2,151.10000000000002 387.09999999999997,155.9" fill="#c8102e"/>
<polygon points="395.3,153.9 398.2,149.10000000000002 401.09999999999997,153.9" fill="#c8102e"/>
<polygon points="410.1,153.6 413,148.8 415.9,153.6" fill="#c8102e"/>
<polygon points="424.6,154.29999999999998 427.5,149.5 430.4,154.29999999999998" fill="#c8102e"/>
<polygon points="438.90000000000003,152.6 441.8,147.8 444.7,152.6" fill="#c8102e"/>
<polygon points="453.1,155.6 456,150.8 458.9,155.6" fill="#c8102e"/>
<polygon points="467.3,149.1 470.2,144.3 473.09999999999997,149.1" fill="#c8102e"/>
<polygon points="481.1,152.6 484,147.8 486.9,152.6" fill="#c8102e"/>
<polygon points="495.6,156.1 498.5,151.3 501.4,156.1" fill="#c8102e"/>
<polygon points="502.6,156.1 505.5,151.3 508.4,156.1" fill="#c8102e"/>
</svg></body></html>
